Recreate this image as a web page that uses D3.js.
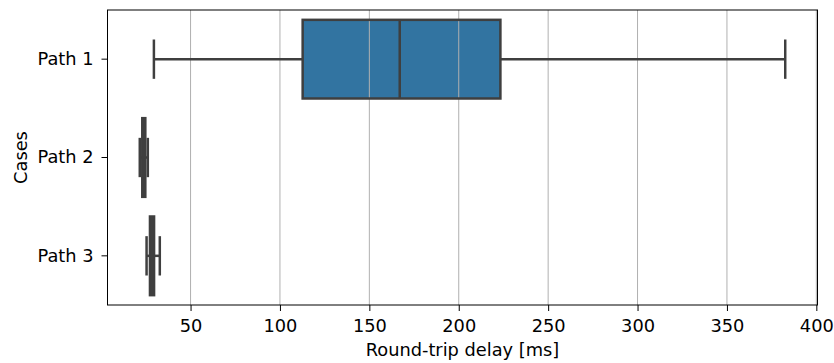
<!DOCTYPE html>
<html><head><meta charset="utf-8">
<script src="https://cdn.jsdelivr.net/npm/d3@7"></script>
<style>body{margin:0;background:#fff}svg{display:block}text{font-family:"DejaVu Sans",sans-serif;fill:#000}</style>
</head><body><svg id="c" width="834" height="363"></svg>
<script>
const categories = ["Path 1", "Path 2", "Path 3"];
const whiskerLow = [29.5, 21.6, 25.4];
const q1 = [112.7, 23.0, 27.3];
const median = [167.0, 23.8, 28.5];
const q3 = [223.3, 24.7, 29.6];
const whiskerHigh = [382.6, 26.1, 32.8];
const xTicks = [50, 100, 150, 200, 250, 300, 350, 400];

const svg = d3.select("#c");
const L = 107.5, R = 817.5, T = 10, B = 305;
const FS = 17.8;
const lo = d3.min(whiskerLow), hi = d3.max(whiskerHigh), r = hi - lo;
const x = d3.scaleLinear().domain([lo - 0.05 * r, hi + 0.05 * r]).range([L, R]);
const y = d3.scaleBand().domain(categories).range([T, B]);
const bw = y.bandwidth() * 0.8;
const lineCol = "#3f3f3f", lw = 2.5;
const data = categories.map((c, i) => ({c, wl: whiskerLow[i], q1: q1[i], med: median[i], q3: q3[i], wh: whiskerHigh[i]}));

// box fills
const g = svg.append("g");
data.forEach(d => {
  const cy = y(d.c) + y.bandwidth() / 2;
  g.append("rect").attr("x", x(d.q1)).attr("y", cy - bw / 2).attr("width", x(d.q3) - x(d.q1)).attr("height", bw)
    .attr("fill", "#3274a1");
});
// grid
xTicks.forEach(t => {
  svg.append("line").attr("x1", x(t)).attr("x2", x(t)).attr("y1", T).attr("y2", B)
    .attr("stroke", "#b0b0b0").attr("stroke-width", 1);
});
// lines
data.forEach(d => {
  const cy = y(d.c) + y.bandwidth() / 2;
  const cap = bw / 2;
  const s = (x1, y1, x2, y2) => svg.append("line").attr("x1", x1).attr("y1", y1).attr("x2", x2).attr("y2", y2)
    .attr("stroke", lineCol).attr("stroke-width", lw);
  s(x(d.wl), cy, x(d.q1), cy);
  s(x(d.q3), cy, x(d.wh), cy);
  s(x(d.wl), cy - cap / 2, x(d.wl), cy + cap / 2);
  s(x(d.wh), cy - cap / 2, x(d.wh), cy + cap / 2);
  svg.append("rect").attr("x", x(d.q1)).attr("y", cy - bw / 2).attr("width", x(d.q3) - x(d.q1)).attr("height", bw)
    .attr("fill", "none").attr("stroke", lineCol).attr("stroke-width", lw);
  s(x(d.med), cy - bw / 2, x(d.med), cy + bw / 2);
});

// axes
const xa = svg.append("g").attr("transform", `translate(0,${B})`)
  .call(d3.axisBottom(x).tickValues(xTicks).tickSize(6).tickPadding(8).tickFormat(d3.format("d")));
const ya = svg.append("g").attr("transform", `translate(${L},0)`)
  .call(d3.axisLeft(y).tickSize(6).tickPadding(8));
[xa, ya].forEach(a => {
  a.select(".domain").remove();
  a.selectAll("line").attr("stroke", "#000").attr("stroke-width", 1);
  a.selectAll("text").attr("font-size", FS).attr("font-family", "DejaVu Sans").attr("fill", "#000");
});
svg.append("rect").attr("x", L).attr("y", T).attr("width", R - L).attr("height", B - T)
  .attr("fill", "none").attr("stroke", "#000").attr("stroke-width", 1);

svg.append("text").attr("x", (L + R) / 2).attr("y", 356).attr("text-anchor", "middle").attr("font-size", FS)
  .text("Round-trip delay [ms]");
svg.append("text").attr("transform", `translate(27,${(T + B) / 2}) rotate(-90)`).attr("text-anchor", "middle")
  .attr("font-size", FS).text("Cases");
</script></body></html>
